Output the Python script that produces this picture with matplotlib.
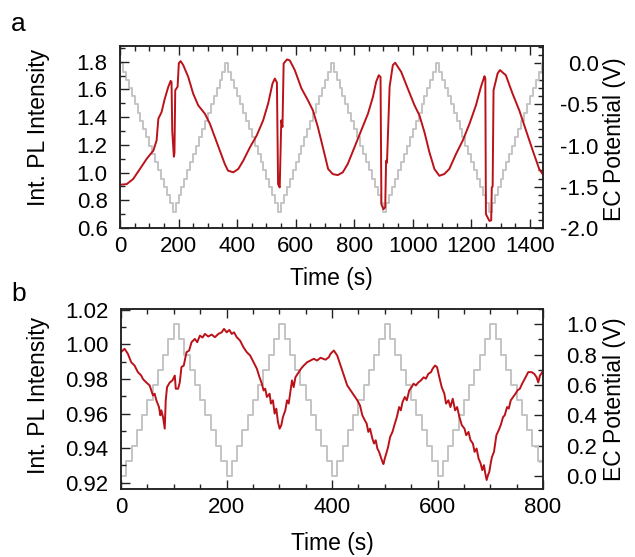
import numpy as np
import matplotlib
matplotlib.use('Agg')
import matplotlib.pyplot as plt
from matplotlib.ticker import MultipleLocator

plt.rcParams['font.family'] = ['Liberation Sans', 'DejaVu Sans']
plt.rcParams['font.size'] = 16

# ---- panel a : PL intensity (red) ----
pl_a_t = [0, 23, 45, 68, 91, 114, 125, 131, 142, 153, 165, 173, 176, 178.5, 184, 186, 188.7, 196.7, 201, 207,
          216, 233, 250, 267, 290, 307, 324, 341, 358, 369, 387, 404, 421, 444, 467, 489, 506, 521, 529, 536,
          540, 545.6, 551, 555, 559, 570.6, 580, 597, 620, 642, 659, 676, 693, 711, 727, 744, 761, 778,
          801, 824, 847, 864, 875, 884, 890, 893, 900, 906, 909, 912, 921, 932, 940, 960.6, 983, 1006,
          1023, 1040, 1057, 1074, 1091, 1108, 1125, 1148, 1171, 1194, 1216, 1233, 1245, 1248, 1250, 1262,
          1268, 1270, 1273, 1276, 1290, 1298, 1318, 1341, 1364, 1387, 1410, 1432, 1445]
pl_a_v = [0.912, 0.917, 0.954, 1.026, 1.099, 1.159, 1.232, 1.389, 1.437, 1.534, 1.619, 1.662, 1.655, 1.30, 1.115, 1.14, 1.594, 1.62, 1.79, 1.805,
          1.776, 1.691, 1.57, 1.486, 1.425, 1.353, 1.256, 1.159, 1.062, 1.014, 1.002, 1.026, 1.086, 1.183, 1.268, 1.377, 1.498, 1.643, 1.679, 1.65,
          0.917, 0.893, 1.377, 1.33, 1.788, 1.817, 1.81, 1.74, 1.607, 1.522, 1.449, 1.328, 1.183, 1.026, 0.989, 0.982, 1.002, 1.062,
          1.183, 1.304, 1.425, 1.546, 1.655, 1.703, 1.69, 0.77, 0.736, 0.75, 1.086, 1.07, 1.619, 1.776, 1.793, 1.727, 1.607, 1.486,
          1.413, 1.292, 1.147, 1.026, 0.977, 0.99, 1.026, 1.135, 1.232, 1.353, 1.486, 1.619, 1.696, 1.68, 0.70, 0.651,
          0.655, 0.893, 0.90, 1.594, 1.716, 1.74, 1.703, 1.57, 1.449, 1.304, 1.159, 1.026, 0.985]

# ---- panel a : EC potential staircase (grey), one cycle of 10 s levels ----
ec_a_cycle = [0.0, -0.1, -0.2, -0.3, -0.4, -0.5, -0.6, -0.7, -0.8, -0.9, -1.0, -1.1, -1.2, -1.3, -1.4, -1.5, -1.6, -1.7,
              -1.8, -1.7, -1.6, -1.5, -1.4, -1.3, -1.2, -1.1, -1.0, -0.9, -0.8, -0.7, -0.6, -0.5, -0.4, -0.3, -0.2, -0.1]
ec_a_dwell = 10
ec_a_end = 1450

# ---- panel b : PL intensity (red) ----
pl_b_t = [0, 6.7, 13, 19.4, 25.7, 32, 38.4, 41.6, 48, 54.3, 57.5, 60.6, 63.8, 67, 72, 74.6, 76.5, 79.7, 82.9, 84.8,
          87.3, 92.4, 97.5, 102, 103.8, 108.3, 111.4, 114.6, 119, 124.1, 129.2, 133.7, 140, 144.5, 149.6, 154.6,
          159.1, 165.4, 171.8, 178.1, 184.5, 190.8, 195.3, 200.4, 205.4, 209.9, 214.3, 219.4, 225.8, 232.1, 238.5,
          244.8, 251.2, 257.5, 262.6, 267, 270.3, 273.4, 276.6, 281.7, 284.2, 288, 291.2, 294.4, 297.5, 300.7,
          303.9, 307, 311.5, 314.7, 317.9, 321, 324.2, 327.4, 330.6, 336.9, 341.3, 346.4, 352.8, 359.1, 365.5,
          371.8, 378.2, 387.7, 394, 397.2, 403.5, 409.9, 416.2, 422.6, 428.9, 435.3, 441.6, 448, 453, 457.5,
          460.6, 465.7, 468.9, 472.1, 476.5, 479.7, 482.9, 486, 489.2, 492.4, 495.6, 497.5, 500, 503.8, 506.4,
          510.2, 514.6, 519.1, 522.9, 527.3, 530.5, 533.7, 538.1, 541.9, 546.4, 550.8, 554.6, 559.1, 563.5,
          568.6, 573.7, 578.1, 582.6, 587.7, 590.8, 595.3, 599.1, 603.5, 608, 613, 616.2, 620.7, 624.5, 628.9,
          633.4, 637.2, 641.6, 646.1, 651.2, 654.4, 658.8, 662.6, 667.1, 670.3, 674.1, 677.9, 681.7, 684.9,
          688.1, 690.6, 693.2, 695.7, 698.2, 700.8, 703.3, 707.1, 711.6, 716, 719.8, 724.3, 727.4, 731.9, 735.1,
          738.9, 743.3, 747.8, 751.6, 756.1, 760.5, 765.6, 772, 778.3, 783.4, 787.9, 791, 794.2, 798.7]
pl_b_v = [0.9955, 0.9975, 0.9946, 0.9897, 0.9878, 0.984, 0.982, 0.980, 0.978, 0.9763, 0.9734, 0.9705, 0.9715, 0.9677, 0.9638, 0.959, 0.9619, 0.958, 0.9513, 0.9677,
          0.9753, 0.978, 0.9792, 0.982, 0.9744, 0.9744, 0.978, 0.9869, 0.9878, 0.9955, 0.9965, 1.0013, 1.0032, 1.0013, 1.0051, 1.004,
          1.0061, 1.0046, 1.0057, 1.0042, 1.0061, 1.007, 1.009, 1.007, 1.0084, 1.0061, 1.007, 1.0042, 1.0022, 0.9984, 0.9955,
          0.9936, 0.9897, 0.986, 0.981, 0.9773, 0.9734, 0.9744, 0.9696, 0.9715, 0.9658, 0.9677, 0.96, 0.9629, 0.9552, 0.9513,
          0.9533, 0.958, 0.9619, 0.9677, 0.9658, 0.9725, 0.9792, 0.9753, 0.981, 0.984, 0.986, 0.9878, 0.9897, 0.9907, 0.9917,
          0.9907, 0.9923, 0.9912, 0.9926, 0.9946, 0.9965, 0.9936, 0.9878, 0.982, 0.9763, 0.9734, 0.9705, 0.9677, 0.9648, 0.959,
          0.9571, 0.9542, 0.9494, 0.9513, 0.9456, 0.9427, 0.9446, 0.9398, 0.9379, 0.935, 0.9321, 0.9308, 0.934, 0.9379, 0.9408,
          0.9465, 0.9494, 0.9542, 0.958, 0.9638, 0.9619, 0.9667, 0.9696, 0.9677, 0.9734, 0.9753, 0.9773, 0.9763, 0.978,
          0.9792, 0.981, 0.9802, 0.983, 0.984, 0.986, 0.9878, 0.9869, 0.981, 0.9753, 0.9715, 0.9658, 0.9677, 0.9638, 0.9686,
          0.9619, 0.9638, 0.958, 0.9533, 0.9513, 0.9475, 0.9494, 0.9446, 0.9427, 0.9379, 0.9398, 0.934, 0.9312, 0.9273,
          0.9302, 0.9254, 0.9216, 0.9244, 0.9263, 0.9312, 0.935, 0.9379, 0.9475, 0.9504, 0.9533, 0.958, 0.959, 0.9638, 0.9629,
          0.9677, 0.9696, 0.9715, 0.9734, 0.9744, 0.9773, 0.9802, 0.984, 0.984, 0.983, 0.981, 0.978, 0.982, 0.984]

# ---- panel b : EC potential staircase (grey) ----
ec_b_cycle = [0.0, 0.1, 0.2, 0.3, 0.4, 0.5, 0.6, 0.7, 0.8, 0.9, 1.0, 0.9, 0.8, 0.7, 0.6, 0.5, 0.4, 0.3, 0.2, 0.1]
ec_b_dwell = 10
ec_b_end = 800

red = '#bb1219'
grey = '#c4c4c4'


def staircase(cycle, dwell, end):
    n = int(np.ceil(end / dwell)) + 1
    lev = np.resize(np.array(cycle), n)
    tt = np.arange(n) * dwell
    return tt, lev


def style(ax, ax2, rpad):
    for a in (ax, ax2):
        for s in a.spines.values():
            s.set_linewidth(1.1)
            s.set_color('#222222')
    ax.tick_params(axis='both', which='both', direction='in', top=True, right=False, labelsize=16, color='#222222')
    ax.tick_params(which='major', length=6.5, width=1.0)
    ax.tick_params(which='minor', length=3.5, width=1.0)
    ax.tick_params(axis='y', pad=9)
    ax.tick_params(axis='x', pad=6)
    # right labels are right aligned in the original
    ax2.tick_params(axis='y', which='both', direction='in', labelsize=16, pad=rpad, color='#222222')
    ax2.tick_params(which='major', length=6.5, width=1.0)
    ax2.tick_params(which='minor', length=3.5, width=1.0)


fig = plt.figure(figsize=(6.35, 5.57), dpi=100)

# panel a
ax_a = fig.add_axes([120 / 635, 1 - 228 / 557, 423 / 635, 182 / 557])
ax_a2 = ax_a.twinx()
ta, la = staircase(ec_a_cycle, ec_a_dwell, ec_a_end)
ax_a2.plot(ta, la, drawstyle='steps-post', color=grey, lw=1.4)
ax_a.plot(pl_a_t, pl_a_v, color=red, lw=1.4)
ax_a.set_zorder(ax_a2.get_zorder() + 1)
ax_a.patch.set_visible(False)
ax_a.set_xlim(0, 1445)
ax_a.set_ylim(0.6, 1.914)
ax_a2.set_ylim(-2.0, 0.21)
ax_a.xaxis.set_major_locator(MultipleLocator(200))
ax_a.xaxis.set_minor_locator(MultipleLocator(50))
ax_a.yaxis.set_major_locator(MultipleLocator(0.2))
ax_a.yaxis.set_minor_locator(MultipleLocator(0.1))
ax_a2.yaxis.set_major_locator(MultipleLocator(0.5))
ax_a2.yaxis.set_minor_locator(MultipleLocator(0.1))
ax_a.yaxis.set_major_formatter(plt.FormatStrFormatter('%.1f'))
ax_a2.yaxis.set_major_formatter(plt.FormatStrFormatter('%.1f'))
style(ax_a, ax_a2, 40)
ax_a.set_xlabel('Time (s)', fontsize=16.5)
ax_a.set_ylabel('Int. PL Intensity', fontsize=16.5)
ax_a2.set_ylabel('EC Potential (V)', fontsize=16.5)
ax_a.xaxis.set_label_coords(0.5, -0.215)
ax_a.yaxis.set_label_coords(-0.165, 0.55)
ax_a2.yaxis.set_label_coords(1.142, 0.49)
fig.text(18 / 635, 1 - 24 / 557, 'a', fontsize=19, va='center', ha='center')

# panel b
ax_b = fig.add_axes([121 / 635, 1 - 489 / 557, 422 / 635, 180 / 557])
ax_b2 = ax_b.twinx()
tb, lb = staircase(ec_b_cycle, ec_b_dwell, ec_b_end)
ax_b2.plot(tb, lb, drawstyle='steps-post', color=grey, lw=1.4)
ax_b.plot(pl_b_t, pl_b_v, color=red, lw=1.4)
ax_b.set_zorder(ax_b2.get_zorder() + 1)
ax_b.patch.set_visible(False)
ax_b.set_xlim(0, 800)
ax_b.set_ylim(0.9164, 1.0205)
ax_b2.set_ylim(-0.086, 1.10)
ax_b.xaxis.set_major_locator(MultipleLocator(200))
ax_b.xaxis.set_minor_locator(MultipleLocator(50))
ax_b.yaxis.set_major_locator(MultipleLocator(0.02))
ax_b.yaxis.set_minor_locator(MultipleLocator(0.01))
ax_b2.yaxis.set_major_locator(MultipleLocator(0.2))
ax_b2.yaxis.set_minor_locator(MultipleLocator(0.1))
ax_b.yaxis.set_major_formatter(plt.FormatStrFormatter('%.2f'))
ax_b2.yaxis.set_major_formatter(plt.FormatStrFormatter('%.1f'))
style(ax_b, ax_b2, 39)
ax_b.set_xlabel('Time (s)', fontsize=16.5)
ax_b.set_ylabel('Int. PL Intensity', fontsize=16.5)
ax_b2.set_ylabel('EC Potential (V)', fontsize=16.5)
ax_b.xaxis.set_label_coords(0.5, -0.24)
ax_b.yaxis.set_label_coords(-0.168, 0.52)
ax_b2.yaxis.set_label_coords(1.142, 0.5)
fig.text(19 / 635, 1 - 294 / 557, 'b', fontsize=19, va='center', ha='center')

fig.canvas.draw()
for a2 in (ax_a2, ax_b2):
    for tl in a2.get_yticklabels():
        tl.set_horizontalalignment('right')

fig.savefig('out.png', dpi=100)
